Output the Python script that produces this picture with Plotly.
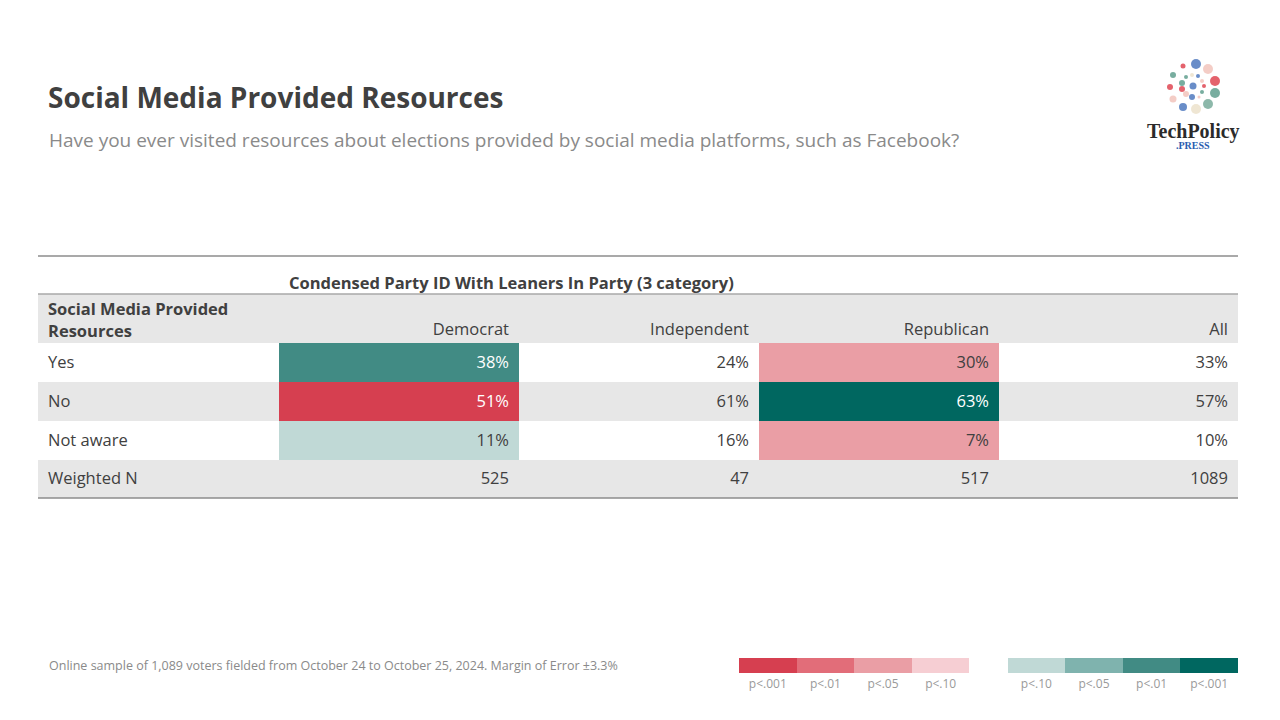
import plotly.graph_objects as go

# ---------------- data ----------------
title = "Social Media Provided Resources"
subtitle = "Have you ever visited resources about elections provided by social media platforms, such as Facebook?"
banner_title = "Condensed Party ID With Leaners In Party (3 category)"
row_header = "Social Media Provided<br>Resources"
columns = ["Democrat", "Independent", "Republican", "All"]
rows = ["Yes", "No", "Not aware"]
n_label = "Weighted N"
democrat = [38, 51, 11]
independent = [24, 61, 16]
republican = [30, 63, 7]
all_voters = [33, 57, 10]
weighted_n = [525, 47, 517, 1089]
# significance code per cell: "neg.xxx" = significantly lower (red), "pos.xxx" = higher (teal)
sig_democrat = ["pos.01", "neg.001", "pos.10"]
sig_independent = [None, None, None]
sig_republican = ["neg.05", "pos.001", "neg.05"]
sig_all = [None, None, None]
footnote = "Online sample of 1,089 voters fielded from October 24 to October 25, 2024. Margin of Error ±3.3%"
legend_neg_codes = ["neg.001", "neg.01", "neg.05", "neg.10"]
legend_neg_labels = ["p<.001", "p<.01", "p<.05", "p<.10"]
legend_pos_codes = ["pos.10", "pos.05", "pos.01", "pos.001"]
legend_pos_labels = ["p<.10", "p<.05", "p<.01", "p<.001"]
sig_colors = {
    "neg.001": "#d63f50", "neg.01": "#e26d79", "neg.05": "#ea9ea5", "neg.10": "#f6ced3",
    "pos.10": "#c0d9d6", "pos.05": "#7fb3ae", "pos.01": "#418b84", "pos.001": "#006760",
}
dark_codes = {"neg.001", "neg.01", "pos.01", "pos.001"}

# logo dots (decorative)
logo_x = [1183, 1196, 1208, 1173, 1186, 1192, 1198, 1202, 1215, 1182, 1170, 1193, 1204, 1182, 1215, 1186, 1192, 1202, 1173, 1199, 1208, 1183, 1196]
logo_y = [66, 64, 69, 75, 77, 75, 76, 81, 81, 83, 87, 86, 86, 89, 93, 94, 97, 92, 99, 97, 104, 107, 109]
logo_s = [5, 10, 10, 6, 4, 4, 4, 4, 10, 6, 6, 7, 4, 6, 10, 6, 6, 4, 7, 3, 10, 8, 10]
logo_c = ["#d9202e", "#2a5db0", "#f0b8ae", "#3e8a76", "#3e8a76", "#e8dcc0", "#2a5db0", "#f0b8ae", "#d9202e",
          "#3e8a76", "#d9202e", "#2a5db0", "#d9202e", "#d9202e", "#3e8a76", "#f0b8ae", "#2a5db0", "#3e8a76",
          "#f0b8ae", "#f0b8ae", "#5c9a86", "#2a5db0", "#e8dcc0"]

# ---------------- style / layout ----------------
FONT = "Open Sans"
DARK = "#404040"
GRAY_TXT = "#8a8a8a"
ROW_GRAY = "#e7e7e7"
W, H = 1280, 720
OFF = 8  # page body margin
# table geometry (pixels of the slide)
COL_EDGES = [38, 279, 519, 759, 999, 1238]
ROW_EDGES = [294, 343, 382, 421, 460, 498]
PAD = 10
TXT_SIZE = 16.5


def px(x):
    return (x - OFF) / W


def py(y):
    return 1 - (y - OFF) / H


fig = go.Figure()

# ---------------- table cells (heatmap) ----------------
body_cols = [democrat, independent, republican, all_voters]
sig_cols = [sig_democrat, sig_independent, sig_republican, sig_all]
row_bg = [ROW_GRAY, "white", ROW_GRAY, "white", ROW_GRAY]  # header + 4 rows

palette = [ROW_GRAY, "white"] + list(sig_colors.values())
color_idx = {c: i for i, c in enumerate(palette)}
n_pal = len(palette)
colorscale = []
for i, c in enumerate(palette):
    lo = max(0.0, (i - 0.5) / (n_pal - 1))
    hi = min(1.0, (i + 0.5) / (n_pal - 1))
    colorscale += [[lo, c], [hi, c]]

z = []
for r in range(5):
    line = [color_idx[row_bg[r]]]
    for j in range(4):
        s = sig_cols[j][r - 1] if 1 <= r <= 3 else None
        line.append(color_idx[sig_colors[s]] if s else color_idx[row_bg[r]])
    z.append(line)

fig.add_trace(go.Heatmap(
    z=z, x=COL_EDGES, y=ROW_EDGES, zmin=0, zmax=n_pal - 1,
    colorscale=colorscale, showscale=False, hoverinfo="skip",
    xaxis="x3", yaxis="y3",
))

# cell texts
tx, ty, tt, tc = [], [], [], []
lx, ly, lt = [], [], []
centers = [(ROW_EDGES[i] + ROW_EDGES[i + 1]) / 2 + 1 for i in range(5)]
for r, label in enumerate(rows + [n_label]):
    lx.append(COL_EDGES[0] + PAD)
    ly.append(centers[r + 1])
    lt.append(label)
    for j in range(4):
        right = COL_EDGES[j + 2] - PAD
        if r < 3:
            s = sig_cols[j][r]
            tt.append(f"{body_cols[j][r]}%")
            tc.append("white" if s in dark_codes else DARK)
        else:
            tt.append(str(weighted_n[j]))
            tc.append(DARK)
        tx.append(right)
        ty.append(centers[r + 1])

fig.add_trace(go.Scatter(
    x=tx, y=ty, text=tt, mode="text", textposition="middle left",
    textfont=dict(family=FONT, size=TXT_SIZE, color=tc),
    hoverinfo="skip", showlegend=False, xaxis="x3", yaxis="y3", cliponaxis=False,
))
fig.add_trace(go.Scatter(
    x=lx, y=ly, text=lt, mode="text", textposition="middle right",
    textfont=dict(family=FONT, size=TXT_SIZE, color=DARK),
    hoverinfo="skip", showlegend=False, xaxis="x3", yaxis="y3", cliponaxis=False,
))
# header texts
hdr_y = ROW_EDGES[1] - 12
fig.add_trace(go.Scatter(
    x=[COL_EDGES[j + 2] - PAD for j in range(4)], y=[hdr_y] * 4, text=columns,
    mode="text", textposition="middle left",
    textfont=dict(family=FONT, size=TXT_SIZE, color=DARK),
    hoverinfo="skip", showlegend=False, xaxis="x3", yaxis="y3", cliponaxis=False,
))
fig.add_trace(go.Scatter(
    x=[COL_EDGES[0] + PAD], y=[centers[0] + 2.5], text=[f"<b>{row_header}</b>"],
    mode="text", textposition="middle right",
    textfont=dict(family=FONT, size=TXT_SIZE, color=DARK),
    hoverinfo="skip", showlegend=False, xaxis="x3", yaxis="y3", cliponaxis=False,
))

# ---------------- significance legend (bar trace) ----------------
gap = 0.66
leg_x = list(range(len(legend_neg_codes))) + [len(legend_neg_codes) + gap + i for i in range(len(legend_pos_codes))]
leg_codes = legend_neg_codes + legend_pos_codes
leg_labels = legend_neg_labels + legend_pos_labels
fig.add_trace(go.Bar(
    x=leg_x, y=[1] * len(leg_x), width=1,
    marker=dict(color=[sig_colors[c] for c in leg_codes], line=dict(width=0)),
    hoverinfo="skip", showlegend=False, xaxis="x", yaxis="y",
))

# ---------------- logo ----------------
fig.add_trace(go.Scatter(
    x=logo_x, y=logo_y, mode="markers",
    marker=dict(size=logo_s, color=logo_c, line=dict(width=0)),
    hoverinfo="skip", showlegend=False, xaxis="x2", yaxis="y2",
))

fig.update_layout(
    width=W, height=H,
    margin=dict(l=0, r=0, t=0, b=0),
    paper_bgcolor="white", plot_bgcolor="white",
    showlegend=False,
    bargap=0,
    xaxis=dict(domain=[px(739), px(1238)], range=[-0.5, leg_x[-1] + 0.5],
               tickvals=leg_x, ticktext=leg_labels, showgrid=False, zeroline=False,
               showline=False, ticks="", ticklabelstandoff=2,
               tickfont=dict(family=FONT, size=12, color="#9a9a9a"),
               fixedrange=True),
    yaxis=dict(domain=[py(673), py(658)], range=[0, 1], visible=False, fixedrange=True),
    xaxis2=dict(domain=[px(1140), px(1260)], range=[1140, 1260], visible=False, anchor="y2"),
    yaxis2=dict(domain=[py(160), py(50)], range=[160, 50], visible=False, anchor="x2"),
    xaxis3=dict(domain=[px(COL_EDGES[0]), px(COL_EDGES[-1])], range=[COL_EDGES[0], COL_EDGES[-1]],
                visible=False, anchor="y3", fixedrange=True),
    yaxis3=dict(domain=[py(ROW_EDGES[-1]), py(ROW_EDGES[0])], range=[ROW_EDGES[-1], ROW_EDGES[0]],
                visible=False, anchor="x3", fixedrange=True),
)

# rules
for y, c in [(256, "#8c8c8c"), (294, "#a8a8a8"), (498, "#8c8c8c")]:
    fig.add_shape(type="line", xref="paper", yref="paper", x0=px(38), x1=px(1238),
                  y0=py(y), y1=py(y), line=dict(color=c, width=1.3))


def ann(text, x, y, size, color, bold=False, family=FONT, xanchor="left"):
    fig.add_annotation(text=f"<b>{text}</b>" if bold else text, x=px(x), y=py(y),
                       xref="paper", yref="paper", xanchor=xanchor, yanchor="middle",
                       showarrow=False, font=dict(family=family, size=size, color=color))


ann(title, 46, 97, 28, DARK, bold=True)
ann(subtitle, 47, 140, 19, GRAY_TXT)
ann(banner_title, 287, 282, 16.5, DARK, bold=True)
ann(footnote, 47, 665, 12.5, GRAY_TXT)
ann("TechPolicy", 1193, 131, 20, "#2b2b2b", bold=True, family="Liberation Serif", xanchor="center")
ann(".PRESS", 1193, 145, 10, "#2a5db0", bold=True, family="Liberation Serif", xanchor="center")

fig.write_html("out.html")
